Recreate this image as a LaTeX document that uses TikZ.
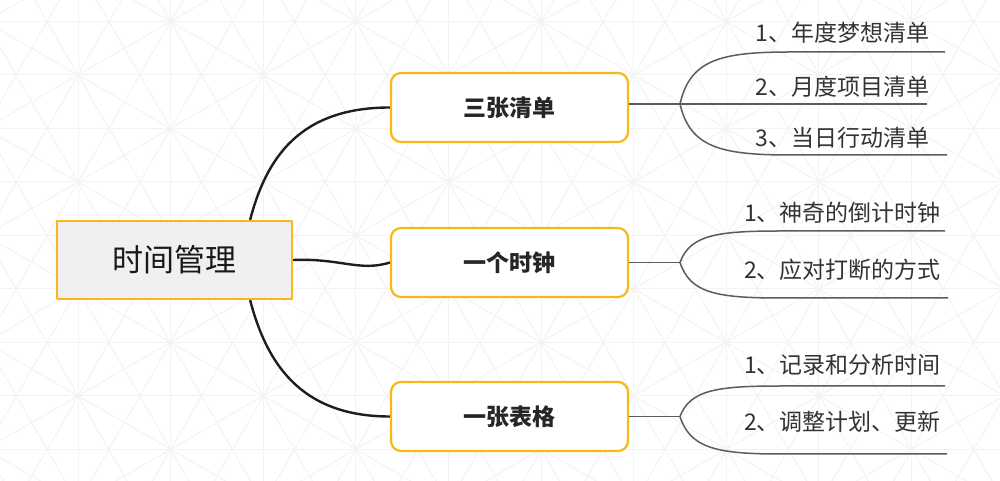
\documentclass[tikz,border=0pt]{standalone}
\usepackage{fontspec}
\setmainfont{Noto Sans CJK SC}
\definecolor{boxgold}{HTML}{F9B914}
\definecolor{rootgray}{HTML}{F0F0F0}
\definecolor{linkblack}{HTML}{1E1E1E}
\definecolor{leafgray}{HTML}{5C5C5C}
\definecolor{labelgray}{HTML}{333333}
\definecolor{bggray}{HTML}{F3F3F3}
\begin{document}
\begin{tikzpicture}[line join=bevel,
  rootbox/.style={draw=boxgold,line width=2.2bp,fill=rootgray,minimum width=235bp,minimum height=78bp,text=black!90,font=\fontsize{31bp}{36bp}\selectfont},
  branchbox/.style={draw=boxgold,line width=2.2bp,rounded corners=10bp,fill=white,minimum width=237bp,minimum height=69bp,text=black!85,font=\bfseries\fontsize{23bp}{27bp}\selectfont},
  leaflabel/.style={text=labelgray,inner sep=0pt,font=\fontsize{23bp}{27bp}\selectfont},
  mainlink/.style={draw=linkblack,line width=2.4bp},
  leaflink/.style={draw=leafgray,line width=1.5bp},
  bgline/.style={draw=bggray,line width=1bp}]
\useasboundingbox (0bp,0bp) rectangle (1000bp,481bp);
%% background
\begin{scope}
\clip (0bp,0bp) rectangle (1000bp,481bp);
\fill[white] (0bp,0bp) rectangle (1000bp,481bp);
\foreach \ang/\gap in {0/53.5,60/53.5,-60/53.5,90/92.6,30/92.6,-30/92.6}
  \foreach \k in {-22,...,22}
    \draw[bgline,shift={(78bp,406bp)},rotate=\ang] (-1400bp,{\k*\gap*1bp}) -- (1400bp,{\k*\gap*1bp});
\end{scope}
%%
\node (node_root) at (174.5bp,221bp) [rootbox] {时间管理};
  \node (node_list) at (509.5bp,373.5bp) [branchbox] {三张清单};
  \node (node_clock) at (509.5bp,218.5bp) [branchbox] {一个时钟};
  \node (node_table) at (509.5bp,64.5bp) [branchbox] {一张表格};
  \draw [mainlink] ([xshift=-43bp]node_root.north east) ..controls +(16bp,61bp) and +(-91bp,0bp) .. (node_list.west);
  \draw [mainlink] (node_root.east) ..controls (340bp,223bp) and (360bp,209bp) .. (node_clock.west);
  \draw [mainlink] ([xshift=-43bp]node_root.south east) ..controls +(16bp,-61bp) and +(-91bp,0bp) .. (node_table.west);
%
\node (node_list_1) at (842.5bp,448bp) [leaflabel] {1、年度梦想清单};
  \node (node_list_2) at (842.5bp,394bp) [leaflabel] {2、月度项目清单};
  \node (node_list_3) at (842.5bp,343bp) [leaflabel] {3、当日行动清单};
  \coordinate (node_list_fork) at (680bp,377bp);
  \coordinate (node_list_1_start) at (790bp,429bp);
  \coordinate (node_list_1_end) at (945bp,429bp);
  \coordinate (node_list_2_end) at (927bp,377bp);
  \coordinate (node_list_3_start) at (790bp,326bp);
  \coordinate (node_list_3_end) at (947bp,326bp);
  \draw [leaflink] (node_list.east |- node_list_fork) -- (node_list_fork) -- (node_list_2_end);
  \draw [leaflink] (node_list_fork) ..controls +(10bp,44bp) and +(-70bp,0bp) .. (node_list_1_start) -- (node_list_1_end);
  \draw [leaflink] (node_list_fork) ..controls +(10bp,-43bp) and +(-70bp,0bp) .. (node_list_3_start) -- (node_list_3_end);
%
\node (node_clock_1) at (842.5bp,268bp) [leaflabel] {1、神奇的倒计时钟};
  \node (node_clock_2) at (842.5bp,211bp) [leaflabel] {2、应对打断的方式};
  \coordinate (node_clock_fork) at (680bp,218.5bp);
  \coordinate (node_clock_1_start) at (780bp,250bp);
  \coordinate (node_clock_1_end) at (945bp,250bp);
  \coordinate (node_clock_2_start) at (780bp,183bp);
  \coordinate (node_clock_2_end) at (948bp,183bp);
  \draw [leaflink] (node_clock.east) -- (node_clock_fork);
  \draw [leaflink] (node_clock_fork) ..controls +(10bp,27bp) and +(-65bp,0bp) .. (node_clock_1_start) -- (node_clock_1_end);
  \draw [leaflink] (node_clock_fork) ..controls +(10bp,-30bp) and +(-65bp,0bp) .. (node_clock_2_start) -- (node_clock_2_end);
%
\node (node_table_1) at (842.5bp,116bp) [leaflabel] {1、记录和分析时间};
  \node (node_table_2) at (842.5bp,59bp) [leaflabel] {2、调整计划、更新};
  \coordinate (node_table_fork) at (680bp,64.5bp);
  \coordinate (node_table_1_start) at (780bp,95bp);
  \coordinate (node_table_1_end) at (945bp,95bp);
  \coordinate (node_table_2_start) at (780bp,27bp);
  \coordinate (node_table_2_end) at (947bp,27bp);
  \draw [leaflink] (node_table.east) -- (node_table_fork);
  \draw [leaflink] (node_table_fork) ..controls +(10bp,26bp) and +(-65bp,0bp) .. (node_table_1_start) -- (node_table_1_end);
  \draw [leaflink] (node_table_fork) ..controls +(10bp,-31bp) and +(-65bp,0bp) .. (node_table_2_start) -- (node_table_2_end);
%
\end{tikzpicture}
\end{document}
